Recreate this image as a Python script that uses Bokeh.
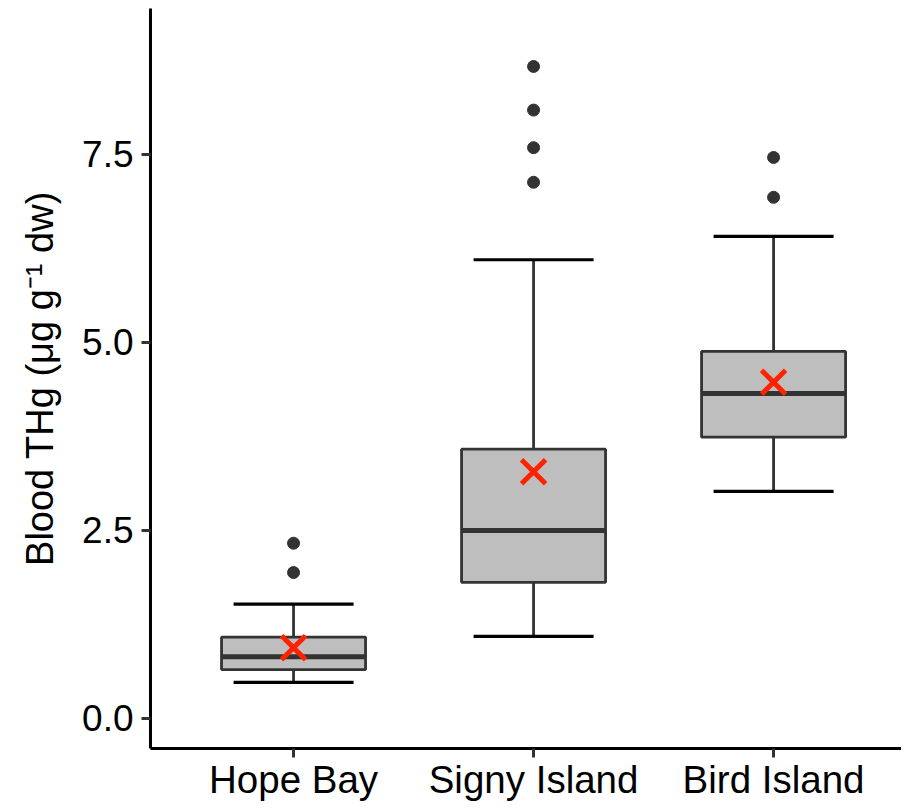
from bokeh.plotting import figure
from bokeh.models import FixedTicker, PrintfTickFormatter, ColumnDataSource, Range1d
from bokeh.embed import file_html
from bokeh.resources import INLINE

categories = ["Hope Bay", "Signy Island", "Bird Island"]
lower_whisker = [0.48, 1.09, 3.02]
q1 = [0.65, 1.81, 3.74]
median = [0.82, 2.50, 4.32]
q3 = [1.08, 3.58, 4.88]
upper_whisker = [1.52, 6.10, 6.41]
means = [0.94, 3.28, 4.47]
outliers = {
    "Hope Bay": [2.33, 1.94],
    "Signy Island": [8.67, 8.09, 7.59, 7.13],
    "Bird Island": [7.46, 6.93],
}
y_ticks = [0.0, 2.5, 5.0, 7.5]

FONT = "Liberation Sans"
pos = [i + 1 for i in range(len(categories))]
box_w = 0.6
cap_w = 0.5

p = figure(width=901, height=803, output_backend="svg", toolbar_location=None,
           x_range=Range1d(0.404, 3.533), y_range=Range1d(-0.40, 9.441),
           min_border_left=150, min_border_right=0, min_border_top=8, min_border_bottom=51)
p.outline_line_color = None
p.xgrid.visible = False
p.ygrid.visible = False
p.background_fill_color = "white"
p.border_fill_color = "white"

src = ColumnDataSource(dict(
    x=pos, lw=lower_whisker, q1=q1, med=median, q3=q3, uw=upper_whisker, mean=means,
    bx0=[x - box_w / 2 for x in pos], bx1=[x + box_w / 2 for x in pos],
    cx0=[x - cap_w / 2 for x in pos], cx1=[x + cap_w / 2 for x in pos],
))

# whiskers
p.segment(x0="x", y0="q3", x1="x", y1="uw", source=src, line_color="#333333", line_width=2.8)
p.segment(x0="x", y0="q1", x1="x", y1="lw", source=src, line_color="#333333", line_width=2.8)
# caps
p.segment(x0="cx0", y0="uw", x1="cx1", y1="uw", source=src, line_color="black", line_width=3.2)
p.segment(x0="cx0", y0="lw", x1="cx1", y1="lw", source=src, line_color="black", line_width=3.2)
# boxes
p.vbar(x="x", width=box_w, bottom="q1", top="q3", source=src,
       fill_color="#BEBEBE", line_color="#333333", line_width=2.8)
# median
p.segment(x0="bx0", y0="med", x1="bx1", y1="med", source=src, line_color="#333333", line_width=5)

# outliers
ox, oy = [], []
for c, x in zip(categories, pos):
    for v in outliers[c]:
        ox.append(x)
        oy.append(v)
p.scatter(ox, oy, marker="circle", size=12, fill_color="#333333", line_color="#333333")

# means
p.scatter(x="x", y="mean", source=src, marker="x", size=34, line_color="#FF2200", line_width=5)

# axes
for ax in (p.xaxis[0], p.yaxis[0]):
    ax.axis_line_color = "black"
    ax.axis_line_width = 3
    ax.major_tick_line_color = "#333333"
    ax.major_tick_line_width = 3
    ax.major_tick_out = 9
    ax.major_tick_in = 0
    ax.minor_tick_line_color = None
    ax.major_label_text_font = FONT
    ax.major_label_text_color = "black"

p.xaxis.major_label_text_font_size = "38.5px"
p.yaxis.major_label_text_font_size = "37px"

p.xaxis.ticker = FixedTicker(ticks=pos)
p.xaxis.major_label_overrides = {x: c for x, c in zip(pos, categories)}
p.xaxis.major_label_standoff = 0

p.yaxis.ticker = FixedTicker(ticks=y_ticks)
p.yaxis.formatter = PrintfTickFormatter(format="%.1f")
p.yaxis.major_label_standoff = 8
p.yaxis.axis_label = "Blood THg (\u03bcg g\u207b\u00b9 dw)"
p.yaxis.axis_label_text_font = FONT
p.yaxis.axis_label_text_font_size = "38px"
p.yaxis.axis_label_text_font_style = "normal"
p.yaxis.axis_label_text_color = "black"
p.yaxis.axis_label_standoff = 18

open("out.html", "w").write(file_html(p, INLINE))
